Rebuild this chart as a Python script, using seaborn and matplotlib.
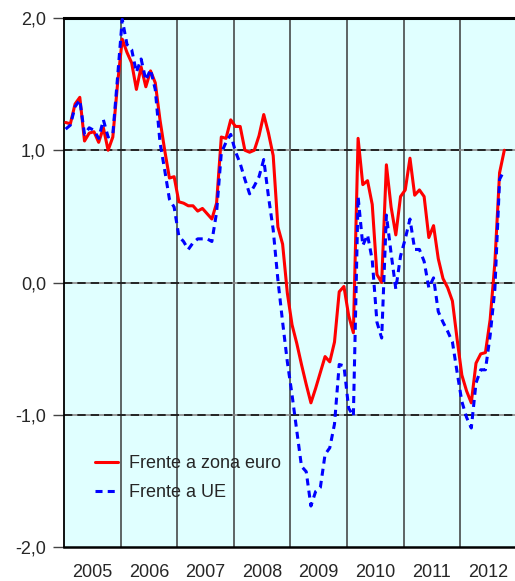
import numpy as np
import pandas as pd
import seaborn as sns
import matplotlib
matplotlib.use("Agg")
import matplotlib.pyplot as plt

# valores mensais desde jan/2005
zona_euro = [1.21, 1.20, 1.35, 1.40, 1.07, 1.13, 1.14, 1.06, 1.17, 1.00, 1.10, 1.50,
             1.84, 1.74, 1.66, 1.46, 1.63, 1.48, 1.60, 1.51, 1.23, 1.00, 0.79, 0.80,
             0.61, 0.60, 0.58, 0.58, 0.54, 0.56, 0.52, 0.48, 0.60, 1.10, 1.09, 1.23,
             1.18, 1.18, 1.00, 0.985, 1.00, 1.11, 1.27, 1.13, 0.96, 0.42, 0.29, -0.08,
             -0.32, -0.46, -0.62, -0.77, -0.91, -0.80, -0.68, -0.56, -0.60, -0.45, -0.07, -0.03,
             -0.25, -0.38, 1.09, 0.74, 0.77, 0.59, 0.06, 0.00, 0.89, 0.57, 0.36, 0.65,
             0.70, 0.94, 0.66, 0.70, 0.65, 0.34, 0.43, 0.18, 0.03, -0.04, -0.14, -0.43,
             -0.70, -0.82, -0.91, -0.61, -0.54, -0.53, -0.28, 0.15, 0.83, 1.00]
ue = [1.16, 1.19, 1.33, 1.38, 1.12, 1.17, 1.15, 1.09, 1.23, 1.10, 1.12, 1.55,
      1.99, 1.80, 1.76, 1.59, 1.69, 1.53, 1.61, 1.46, 1.06, 0.85, 0.63, 0.57,
      0.35, 0.31, 0.25, 0.30, 0.33, 0.33, 0.33, 0.31, 0.53, 0.98, 1.06, 1.12,
      0.99, 0.90, 0.78, 0.67, 0.73, 0.80, 0.93, 0.65, 0.40, 0.02, -0.30, -0.60,
      -0.85, -1.12, -1.39, -1.43, -1.69, -1.58, -1.55, -1.30, -1.25, -1.07, -0.62, -0.63,
      -0.95, -1.01, 0.65, 0.28, 0.36, 0.17, -0.30, -0.42, 0.51, 0.22, -0.05, 0.20,
      0.33, 0.48, 0.25, 0.25, 0.16, -0.04, 0.035, -0.22, -0.30, -0.37, -0.45, -0.68,
      -0.90, -1.02, -1.10, -0.76, -0.66, -0.66, -0.40, -0.05, 0.78, 0.85]
anos = [2005, 2006, 2007, 2008, 2009, 2010, 2011, 2012]
yticks = [-2, -1, 0, 1, 2]
ytick_labels = ["-2,0", "-1,0", "0,0", "1,0", "2,0"]

sns.set_style("white")
plt.rcParams['font.family'] = ['Liberation Sans', 'DejaVu Sans']

mes = np.arange(len(zona_euro))
x = 2005 + (mes + 0.35) / 12
df = pd.DataFrame({"x": np.concatenate([x, x]),
                   "valor": zona_euro + ue,
                   "serie": ["Frente a zona euro"] * len(x) + ["Frente a UE"] * len(x)})

fig = plt.figure(figsize=(5.15, 5.81), dpi=100)
ax = fig.add_axes([64 / 515, 1 - 547 / 581, 453 / 515, 529 / 581])
ax.set_facecolor("#e0ffff")

# grelha
for a in anos[1:]:
    ax.axvline(a, color="#3a3a3a", lw=1.1, zorder=1)
for v in [-1, 0, 1]:
    ax.axhline(v, color="#8a8a8a", lw=1.2, zorder=1)
    ax.axhline(v, color="#111111", lw=1.2, ls=(0, (5, 3)), zorder=1)

sns.lineplot(data=df, x="x", y="valor", hue="serie", style="serie",
             palette={"Frente a zona euro": "#ff0000", "Frente a UE": "#0000ff"},
             dashes={"Frente a zona euro": "", "Frente a UE": (2.3, 1.7)},
             linewidth=2.2, ax=ax, zorder=3)

ax.set_xlim(2005, 2005 + 453 / 56.6)
ax.set_ylim(-2, 2)
ax.set_yticks(yticks)
ax.set_yticklabels(ytick_labels, fontsize=13)
ax.set_xticks([a + 0.5 for a in anos])
ax.set_xticklabels([str(a) for a in anos], fontsize=13)
ax.tick_params(axis="x", length=0, pad=12)
ax.tick_params(axis="y", direction="out", length=8, width=1, color="#444444", pad=5, left=True)
ax.set_xlabel("")
ax.set_ylabel("")
for s in ["left", "bottom", "top"]:
    ax.spines[s].set_color("black")
ax.spines["left"].set_linewidth(1.3)
ax.spines["bottom"].set_linewidth(1.8)
ax.spines["top"].set_linewidth(2.2)
ax.spines["right"].set_visible(False)

leg = ax.legend(loc="upper left", bbox_to_anchor=(0.033, 0.204), frameon=False,
                fontsize=13, handlelength=1.25, handletextpad=0.6, labelspacing=0.65)
leg.set_zorder(5)

fig.savefig("out.png", dpi=100)
